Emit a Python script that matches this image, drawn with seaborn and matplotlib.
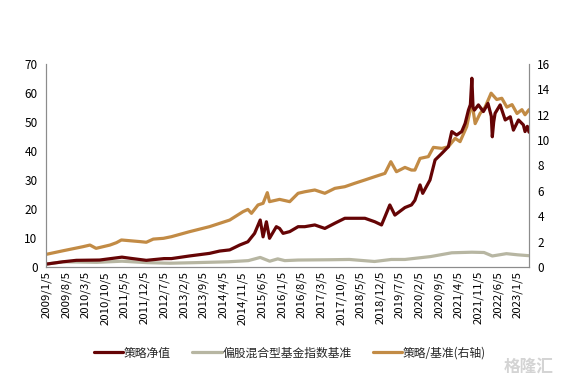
import matplotlib
matplotlib.use("Agg")
import matplotlib.pyplot as plt
import seaborn as sns
import pandas as pd

sns.set_theme(style="white")
plt.rcParams['font.family'] = ['Noto Sans CJK SC', 'DejaVu Sans']

# ---------------- data ----------------
tick_labels = ["2009/1/5", "2009/8/5", "2010/3/5", "2010/10/5", "2011/5/5", "2011/12/5",
               "2012/7/5", "2013/2/5", "2013/9/5", "2014/4/5", "2014/11/5", "2015/6/5",
               "2016/1/5", "2016/8/5", "2017/3/5", "2017/10/5", "2018/5/5", "2018/12/5",
               "2019/7/5", "2020/2/5", "2020/9/5", "2021/4/5", "2021/11/5", "2022/6/5",
               "2023/1/5"]

nav_dates = ["2009-01-05", "2009-07-05", "2009-11-26", "2010-08-05", "2011-04-05", "2011-07-05",
             "2011-12-25", "2012-07-05", "2012-09-23", "2013-04-05", "2013-11-10", "2014-02-28",
             "2014-06-17", "2014-10-05", "2014-12-31", "2015-03-14", "2015-05-14", "2015-06-14",
             "2015-07-20", "2015-08-23", "2015-11-05", "2015-12-10", "2016-01-17", "2016-03-29",
             "2016-06-28", "2016-09-08", "2016-12-26", "2017-04-14", "2017-08-01", "2017-11-17",
             "2018-03-05", "2018-06-23", "2018-10-08", "2018-12-20", "2019-01-26", "2019-03-20",
             "2019-05-14", "2019-08-31", "2019-11-10", "2019-12-17", "2020-02-11", "2020-03-11",
             "2020-05-29", "2020-07-23", "2020-10-05", "2020-12-14", "2021-01-20", "2021-03-14",
             "2021-05-08", "2021-06-14", "2021-07-20", "2021-08-10", "2021-08-26", "2021-09-08",
             "2021-09-23", "2021-11-05", "2021-12-29", "2022-02-17", "2022-03-25", "2022-04-05",
             "2022-04-20", "2022-05-05", "2022-06-29", "2022-08-23", "2022-10-17", "2022-11-20",
             "2023-01-14", "2023-03-08", "2023-03-26", "2023-04-20", "2023-05-08"]
nav_values = [1.0, 1.8, 2.3, 2.4, 3.4, 3.0,
              2.3, 2.9, 2.9, 3.8, 4.7, 5.5,
              5.9, 7.6, 8.7, 11.6, 16.2, 10.4,
              15.6, 9.9, 13.9, 13.3, 11.6, 12.2,
              13.9, 13.9, 14.5, 13.3, 15.1, 16.8,
              16.8, 16.8, 15.6, 14.5, 17.3, 21.4,
              17.9, 20.5, 21.4, 23.0, 28.3, 25.4,
              30.0, 36.9, 39.2, 41.5, 46.7, 45.5,
              46.7, 49.5, 54.1, 56.0, 65.1, 55.0,
              54.1, 55.9, 53.6, 56.4, 52.0, 44.9,
              50.0, 53.0, 55.9, 50.7, 51.8, 47.2,
              50.7, 49.0, 46.7, 48.5, 46.5]

bench_dates = ["2009-01-05", "2009-07-05", "2010-01-05", "2010-07-05", "2011-04-05", "2012-01-05",
               "2012-09-05", "2013-06-05", "2014-06-05", "2015-01-05", "2015-05-14", "2015-08-25",
               "2015-11-20", "2016-02-05", "2016-06-28", "2017-06-05", "2018-01-05", "2018-10-05",
               "2019-04-05", "2019-08-31", "2020-06-05", "2021-01-20", "2021-08-26", "2022-01-05",
               "2022-04-05", "2022-09-05", "2023-01-05", "2023-05-08"]
bench_values = [1.0, 1.8, 1.7, 1.6, 2.0, 1.5,
                1.3, 1.5, 1.8, 2.2, 3.3, 2.0,
                2.8, 2.2, 2.4, 2.5, 2.6, 1.9,
                2.6, 2.6, 3.6, 4.9, 5.1, 5.0,
                3.8, 4.6, 4.2, 3.9]

ratio_dates = ["2009-01-05", "2009-07-05", "2010-02-05", "2010-04-23", "2010-06-28", "2010-11-26",
               "2011-02-05", "2011-03-30", "2011-07-02", "2011-10-20", "2011-12-25", "2012-03-10",
               "2012-06-28", "2012-09-23", "2013-04-05", "2013-11-10", "2014-06-17", "2014-11-08",
               "2014-12-31", "2015-02-08", "2015-04-20", "2015-06-14", "2015-07-30", "2015-08-23",
               "2015-12-10", "2016-03-29", "2016-06-28", "2016-09-08", "2016-12-26", "2017-04-14",
               "2017-08-01", "2017-11-17", "2018-03-05", "2018-06-23", "2018-10-08", "2019-01-26",
               "2019-03-31", "2019-05-31", "2019-08-31", "2019-11-10", "2019-12-17", "2020-02-11",
               "2020-05-11", "2020-07-05", "2020-10-05", "2020-12-14", "2021-02-26", "2021-04-20",
               "2021-07-01", "2021-08-26", "2021-10-01", "2021-11-23", "2022-01-17", "2022-03-23",
               "2022-05-23", "2022-07-17", "2022-09-10", "2022-11-05", "2022-12-29", "2023-02-20",
               "2023-03-26", "2023-05-08"]
ratio_values = [1.0, 1.28, 1.6, 1.73, 1.47, 1.73,
                1.92, 2.13, 2.07, 2.0, 1.95, 2.2,
                2.26, 2.39, 2.78, 3.18, 3.70, 4.36,
                4.54, 4.23, 4.89, 5.02, 5.86, 5.15,
                5.33, 5.15, 5.81, 5.93, 6.07, 5.81,
                6.2, 6.33, 6.6, 6.86, 7.12, 7.38,
                8.3, 7.51, 7.85, 7.64, 7.64, 8.56,
                8.7, 9.43, 9.35, 9.48, 10.14, 9.88,
                11.06, 13.0, 11.3, 12.1, 12.6, 13.7,
                13.2, 13.3, 12.6, 12.8, 12.1, 12.4,
                12.0, 12.4]

labels = ["策略净值", "偏股混合型基金指数基准", "策略/基准(右轴)"]
colors = ["#650405", "#B7B6A2", "#C28B45"]

# ---------------- plot ----------------
fig = plt.figure(figsize=(5.62, 3.80), dpi=100)
ax = fig.add_axes([46 / 562, 1 - 267 / 380, (529 - 46) / 562, (267 - 64) / 380])
ax2 = ax.twinx()

nav_df = pd.DataFrame({"date": pd.to_datetime(nav_dates), "v": nav_values})
bench_df = pd.DataFrame({"date": pd.to_datetime(bench_dates), "v": bench_values})
ratio_df = pd.DataFrame({"date": pd.to_datetime(ratio_dates), "v": ratio_values})

lw = 2.3
sns.lineplot(data=ratio_df, x="date", y="v", ax=ax2, color=colors[2], linewidth=lw)
sns.lineplot(data=bench_df, x="date", y="v", ax=ax, color=colors[1], linewidth=lw)
sns.lineplot(data=nav_df, x="date", y="v", ax=ax, color=colors[0], linewidth=lw)

ax.set_zorder(ax2.get_zorder() + 1)
ax.patch.set_visible(False)

ax.set_ylim(0, 70)
ax.set_yticks(range(0, 71, 10))
ax2.set_ylim(0, 16)
ax2.set_yticks(range(0, 17, 2))

xmin = pd.Timestamp("2009-01-01")
xmax = pd.Timestamp("2023-05-08")
ax.set_xlim(xmin, xmax)
ticks = pd.to_datetime(tick_labels, format="%Y/%m/%d")
ax.set_xticks(ticks)
ax.set_xticklabels(tick_labels, rotation=90)

for a in (ax, ax2):
    a.set_xlabel("")
    a.set_ylabel("")
    a.grid(False)
    a.spines["top"].set_visible(False)
    for s in ("left", "right", "bottom"):
        a.spines[s].set_color("#8c8c8c")
        a.spines[s].set_linewidth(0.8)

ax.tick_params(axis="x", direction="in", length=3, width=0.8, color="#8c8c8c",
               labelsize=8.2, pad=3, labelcolor="black")
ax.tick_params(axis="y", length=0, labelsize=8.5, pad=6, labelcolor="black")
ax2.tick_params(axis="y", length=0, labelsize=8.5, pad=6, labelcolor="black")
ax2.tick_params(axis="x", length=0)

handles = [plt.Line2D([], [], color=c, linewidth=2.3) for c in colors]
fig.legend(handles, labels, loc="center", bbox_to_anchor=(0.516, 0.071), ncol=3,
           frameon=False, fontsize=8.5, handlelength=2.5, handletextpad=0.05,
           columnspacing=1.8)

fig.text(0.985, 0.035, "格隆汇", ha="right", va="center", fontsize=12,
         color="#d4d4d4", fontweight="bold")

fig.savefig("out.png", dpi=100)
